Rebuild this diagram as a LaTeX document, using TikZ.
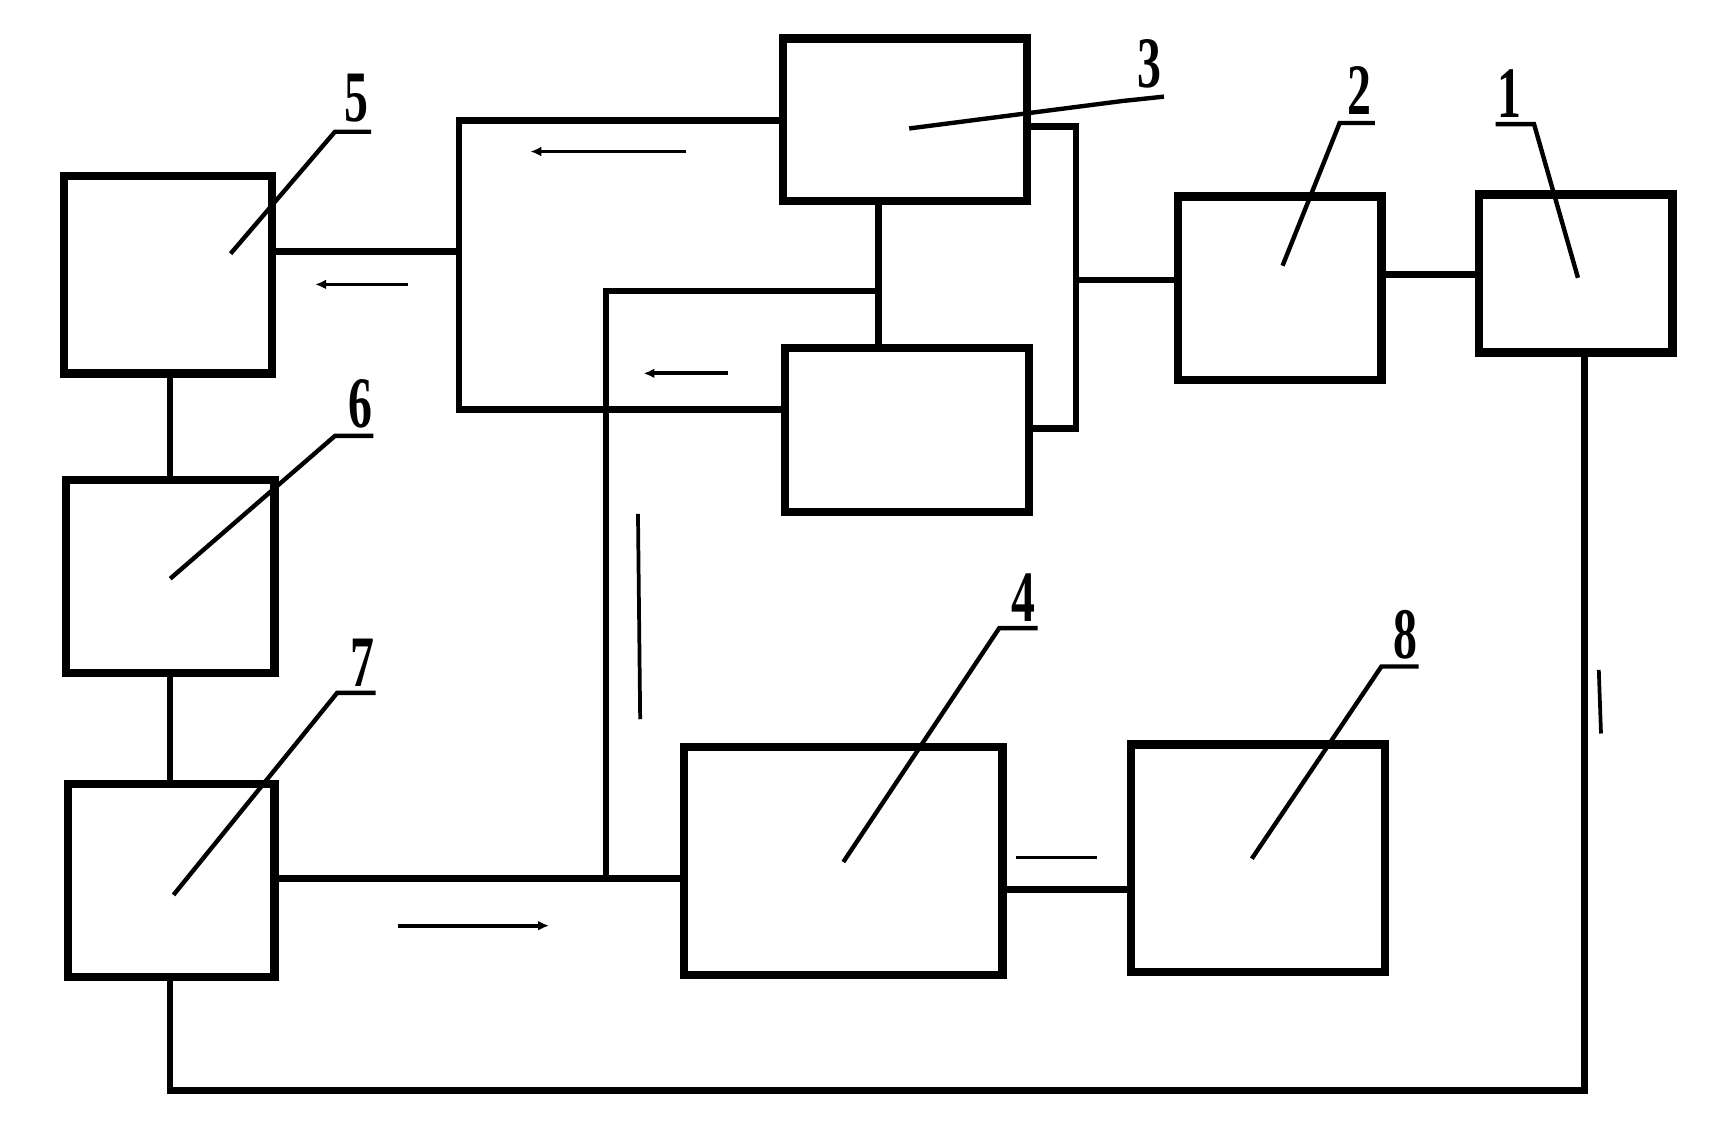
\documentclass[tikz,border=0pt]{standalone}
\usepackage{fontspec}
\setmainfont{Liberation Serif}
\usetikzlibrary{arrows.meta}
\tikzset{
  box/.style={draw, line width=3.8pt, inner sep=0pt},
  conn/.style={line width=3pt},
  leader/.style={line width=2pt},
  flow/.style={line width=1.7pt},
  flowarr/.style={line width=1.7pt, -{Latex[length=5pt,width=4.5pt]}},
  num/.style={font=\fontsize{33}{33}\selectfont\bfseries, xscale=0.66, inner sep=0pt},
}
\begin{document}
\begin{tikzpicture}[x=0.5pt,y=-0.5pt]
\useasboundingbox (0,0) rectangle (1560,1027);
% boxes
\node[box, minimum width=95pt, minimum height=90pt] (b5) at (153,250) {};
\node[box, minimum width=95pt, minimum height=88pt] (b6) at (155,525) {};
\node[box, minimum width=94pt, minimum height=88pt] (b7) at (156,802) {};
\node[box, minimum width=111pt, minimum height=74pt] (b3) at (824,109) {};
\node[box, minimum width=111pt, minimum height=74.5pt] (bx) at (826,391.5) {};
\node[box, minimum width=92.5pt, minimum height=83.5pt] (b2) at (1165.5,262.5) {};
\node[box, minimum width=88pt, minimum height=72pt] (b1) at (1435,249) {};
\node[box, minimum width=145pt, minimum height=104pt] (b4) at (768,784) {};
\node[box, minimum width=115.5pt, minimum height=103.5pt] (b8) at (1145.5,781.5) {};
% junction coordinates
\coordinate (pA) at (418,110);
\coordinate (pB) at (418,373);
\coordinate (pC) at (418,229);
\coordinate (pD) at (800,265);
\coordinate (pE) at (552,265);
\coordinate (pF) at (552,800);
\coordinate (pG) at (980,115);
\coordinate (pH) at (980,390);
\coordinate (pI) at (980,255);
\coordinate (pJ) at (1300,250);
\coordinate (pK) at (1443,993);
\coordinate (pL) at (155,993);
\coordinate (pM) at (970,810);
% connectors
\draw[conn] (b3.west|-pA) -- (pA) -- (pB) -- (bx.west|-pB);
\draw[conn] (b5.east|-pC) -- (pC);
\draw[conn] (b3.south-|pD) -- (bx.north-|pD);
\draw[conn] (pD) -- (pE) -- (pF);
\draw[conn] (b7.east|-pF) -- (b4.west|-pF);
\draw[conn] (b3.east|-pG) -- (pG) -- (pH) -- (bx.east|-pH);
\draw[conn] (pI) -- (b2.west|-pI);
\draw[conn] (b2.east|-pJ) -- (b1.west|-pJ);
\draw[conn] (b1.south-|pK) -- (pK) -- (pL) -- (b7.south-|pL);
\draw[conn] (b5.south-|pL) -- (b6.north-|pL);
\draw[conn] (b6.south-|pL) -- (b7.north-|pL);
\draw[conn] (b4.east|-pM) -- (b8.west|-pM);
% flow marks
\coordinate (fa1) at (625,138); \coordinate (fa2) at (483,138);
\coordinate (fb1) at (372,259); \coordinate (fb2) at (287,259);
\coordinate (fc1) at (663,340); \coordinate (fc2) at (586,340);
\coordinate (fd1) at (581,468); \coordinate (fd2) at (583,655);
\coordinate (fe1) at (362,843); \coordinate (fe2) at (500,843);
\coordinate (ff1) at (925,781); \coordinate (ff2) at (999,781);
\coordinate (fg1) at (1456,610); \coordinate (fg2) at (1458,668);
\draw[flowarr] (fa1) -- (fa2);
\draw[flowarr] (fb1) -- (fb2);
\draw[flowarr] (fc1) -- (fc2);
\draw[flow] (fd1) -- (fd2);
\draw[flowarr] (fe1) -- (fe2);
\draw[flow] (ff1) -- (ff2);
\draw[flow] (fg1) -- (fg2);
% labels
\node[num] (n5) at (325,89) {5};
\node[num] (n6) at (328,368) {6};
\node[num] (n7) at (330,604) {7};
\node[num] (n3) at (1047,58) {3};
\node[num] (n2) at (1238,82) {2};
\node[num] (n1) at (1375,85) {1};
\node[num] (n4) at (932,544) {4};
\node[num] (n8) at (1280,578) {8};
% leaders
\draw[leader] (338,120) -- (305,120) -- (210,231);
\draw[leader] (340,397) -- (305,397) -- (155,527);
\draw[leader] (342,631) -- (307,631) -- (158,815);
\draw[leader] (1060,88) -- (1022,92) -- (828,117);
\draw[leader] (1252,112) -- (1220,112) -- (1168,242);
\draw[leader] (1362,113) -- (1397,113) -- (1437,253);
\draw[leader] (945,572) -- (910,572) -- (768,785);
\draw[leader] (1292,607) -- (1258,607) -- (1140,782);
\end{tikzpicture}
\end{document}
